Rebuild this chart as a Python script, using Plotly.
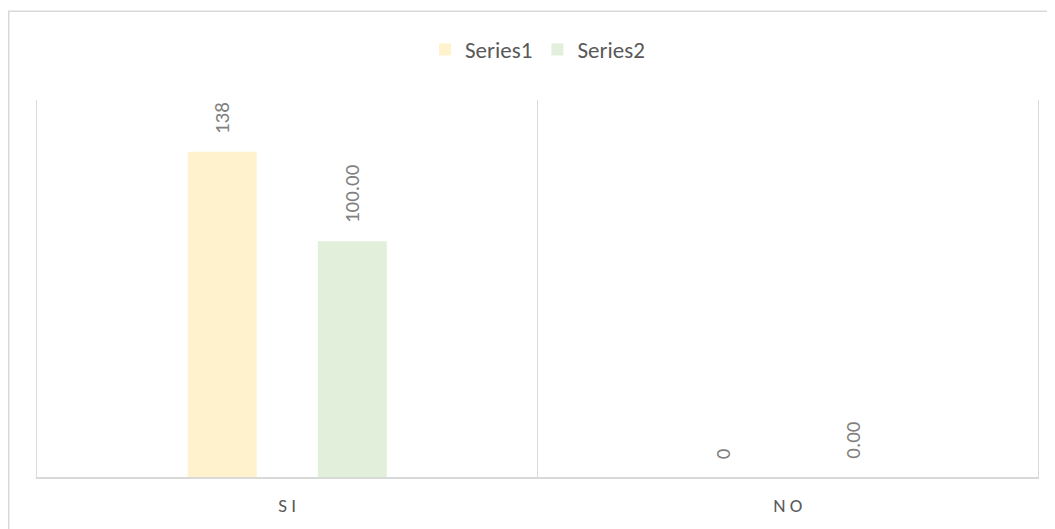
import plotly.graph_objects as go

categories = ["S I", "N O"]
series1 = [138, 0]
series2 = [100.00, 0.00]
series1_labels = ["138", "0"]
series2_labels = ["100.00", "0.00"]
series_names = ["Series1", "Series2"]

FONT = "Calibri, Carlito, Lato, 'Open Sans', sans-serif"
C1 = "#FFF2CC"
C2 = "#E2EFDA"
GRID = "#D9D9D9"

fig = go.Figure()
fig.add_trace(go.Bar(x=categories, y=series1, name=series_names[0],
                     marker=dict(color=C1, line=dict(width=0))))
fig.add_trace(go.Bar(x=categories, y=series2, name=series_names[1],
                     marker=dict(color=C2, line=dict(width=0))))

annotations = []
for vals, labs, shift in [(series1, series1_labels, -65), (series2, series2_labels, 65)]:
    for c, v, t in zip(categories, vals, labs):
        annotations.append(dict(x=c, y=v, xref="x", yref="y", text=t, showarrow=False,
                                textangle=-90, xanchor="center", yanchor="bottom",
                                xshift=shift, yshift=16,
                                font=dict(family=FONT, size=21, color="#808080")))

fig.update_layout(
    width=1047, height=521,
    margin=dict(l=29, r=17, t=92, b=49),
    paper_bgcolor="white", plot_bgcolor="white",
    barmode="group", bargap=0.48, bargroupgap=0.47,
    showlegend=True,
    legend=dict(orientation="h", x=0.5, xanchor="center", y=1.134, yanchor="middle",
                font=dict(family=FONT, size=23, color="#595959"),
                itemclick=False, bgcolor="rgba(0,0,0,0)"),
    xaxis=dict(showgrid=True, gridcolor=GRID, gridwidth=1.3, tickson="boundaries",
               showline=True, linecolor=GRID, linewidth=1.5, ticks="",
               ticklabelstandoff=10,
               tickfont=dict(family=FONT, size=19, color="#595959"), range=[-0.5, 1.5]),
    yaxis=dict(range=[0, 160], showgrid=False, showticklabels=False, zeroline=False,
               showline=True, mirror=True, linecolor=GRID, linewidth=1.3, ticks=""),
    annotations=annotations,
    shapes=[dict(type="rect", xref="paper", yref="paper", x0=-0.0282, x1=1.05,
                 y0=-0.3, y1=1.2355, line=dict(color=GRID, width=1.5), layer="below")],
)

fig.write_html("out.html")
